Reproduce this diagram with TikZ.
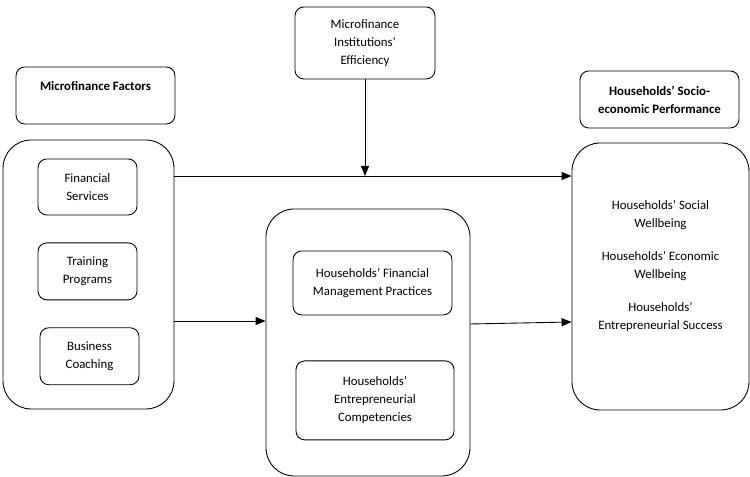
\documentclass[tikz,border=0pt]{standalone}
\usepackage{fontspec}
\setmainfont{Carlito}
\usepackage{tikz}
\usetikzlibrary{arrows.meta,positioning}

\begin{document}
\begin{tikzpicture}[line width=0.5pt,>={Triangle[length=0.2cm,width=0.16cm]},
  box/.style={draw,rounded corners=5pt,align=center,inner sep=2pt,font=\fontsize{7.3}{10.2}\selectfont},
  bigbox/.style={draw,rounded corners=16pt,align=center,font=\fontsize{7.3}{10.2}\selectfont},
  head/.style={box,font=\fontsize{7.3}{10.2}\selectfont\bfseries}]
  \useasboundingbox (0,0) rectangle (15,9.54);

  % headings
  \node[head,minimum width=3.18cm,text height=0.2cm,text depth=0.38cm,inner ysep=0.28cm] (factors) at (1.91,7.63) {Microfinance Factors};
  \node[box,minimum width=2.8cm,minimum height=1.44cm] (mfi) at (7.30,8.68) {Microfinance\\Institutions'\\Efficiency};
  \node[head,minimum width=3.18cm,minimum height=1.14cm] (socio) at (13.19,7.55) {Households' Socio-\\economic Performance};

  % microfinance factors
  \node[bigbox,minimum width=3.42cm,minimum height=5.38cm] (factorsbox) at (1.77,4.05) {};
  \node[box,minimum width=1.98cm,minimum height=1.12cm] (finserv) at (1.75,5.80) {Financial\\Services};
  \node[box,minimum width=1.98cm,minimum height=1.14cm] (training) [below=0.54cm of finserv] {Training\\Programs};
  \node[box,minimum width=1.98cm,minimum height=1.14cm] (coaching) [below=0.54cm of training,xshift=0.04cm] {Business\\Coaching};

  % mediators
  \node[bigbox,minimum width=4.08cm,minimum height=5.34cm] (mediators) at (7.36,2.69) {};
  \node[box,minimum width=3.18cm,minimum height=1.28cm] (finmgmt) at (7.45,3.88) {Households' Financial\\Management Practices};
  \node[box,minimum width=3.16cm,minimum height=1.58cm] (competencies) [below=0.9cm of finmgmt,xshift=0.05cm] {Households'\\Entrepreneurial\\Competencies};

  % outcomes
  \node[bigbox,minimum width=3.54cm,minimum height=5.34cm] (outcomes) at (13.21,4.01)
    {Households' Social\\Wellbeing\\[0.3cm]Households' Economic\\Wellbeing\\[0.3cm]Households'\\Entrepreneurial Success\\[0.1cm]};

  \coordinate (meet) at (7.30,6.02);
  \draw[->] (factorsbox.east |- meet) -- (outcomes.west |- meet);
  \draw[->] (mfi) -- (meet);
  \draw[->] (factorsbox.east |- 0,3.12) -- (mediators.west |- 0,3.12);
  \draw[->] (mediators.east |- 0,3.06) -- (outcomes.west |- 0,3.10);
\end{tikzpicture}
\end{document}
